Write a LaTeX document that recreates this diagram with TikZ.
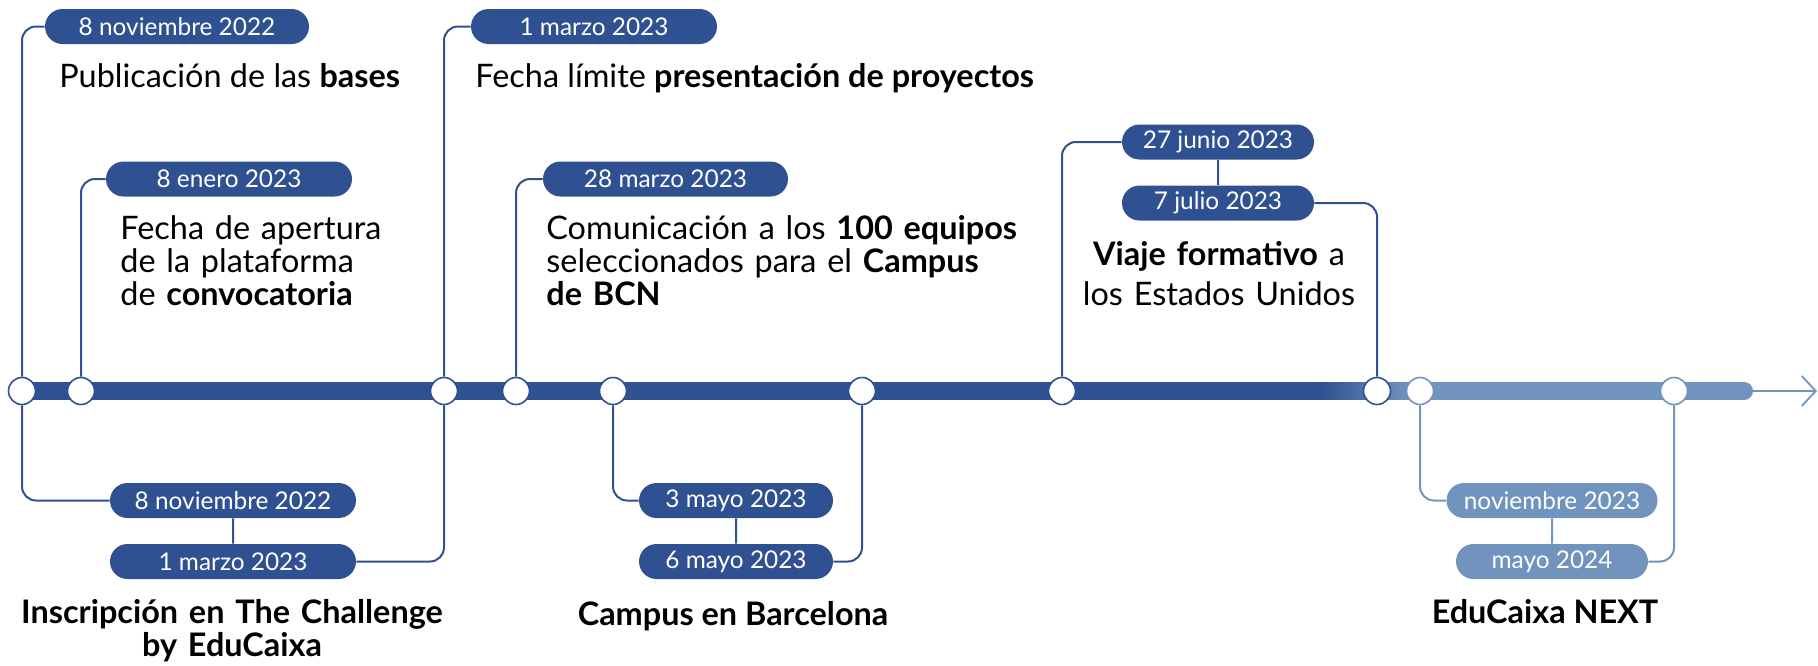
\documentclass[tikz,border=0pt]{standalone}
\usepackage{fontspec}
\setmainfont{Lato}
\usetikzlibrary{shapes.misc,arrows.meta}
\definecolor{navy}{HTML}{2F5191}
\definecolor{sky}{HTML}{7194BE}

\begin{document}
\begin{tikzpicture}
[x=0.5pt,y=-0.5pt,
dot/.style={circle,draw=navy,line width=0.8pt,fill=white,inner sep=0pt,minimum size=13.5pt},
date/.style={rounded rectangle,fill=navy,text=white,inner sep=0pt,minimum height=17.5pt,font=\fontsize{12.2}{13}\selectfont},
link/.style={draw=navy,line width=1pt,rounded corners=7pt},
txt/.style={inner sep=0pt,font=\fontsize{16.2}{16.5}\selectfont}]
\useasboundingbox (0,0) rectangle (1818,665);
\fill[navy] (22,382) rectangle (1320,400);
\foreach \i in {0,...,44}
  \fill[navy!\fpeval{100-\i*100/44}!sky] (1320+2*\i,382) rectangle (1322.5+2*\i,400);
\fill[sky] (1410,382) rectangle (1744,400);
\fill[sky] (1744,391) circle[radius=4.5pt];
\coordinate (barend) at (1753,391);
\coordinate (tip) at (1817,391);
\draw[sky,line width=0.9pt,-{Straight Barb[length=7pt,width=15pt,line width=0.9pt]}] (barend) -- (tip);
\node[dot] at (22,391) (c1) {};
\node[dot] at (81,391) (c2) {};
\node[dot] at (444,391) (c3) {};
\node[dot] at (516,391) (c4) {};
\node[dot] at (613,391) (c5) {};
\node[dot] at (862,391) (c6) {};
\node[dot] at (1062,391) (c7) {};
\node[dot] at (1377,391) (c8) {};
\node[dot,draw=sky] at (1420,391) (c9) {};
\node[dot,draw=sky] at (1674,391) (c10) {};
\node[date,minimum width=132pt] at (177,26.5) (d1) {8 noviembre 2022};
\node[date,minimum width=123pt] at (229,179) (d2) {8 enero 2023};
\node[date,minimum width=123pt] at (594,26.5) (d3) {1 marzo 2023};
\node[date,minimum width=122.5pt] at (665.5,179) (d4) {28 marzo 2023};
\node[date,minimum width=96pt] at (1218,142) (d5) {27 junio 2023};
\node[date,minimum width=96pt] at (1218,203) (d6) {7 julio 2023};
\node[date,minimum width=123pt] at (233,500.5) (d7) {8 noviembre 2022};
\node[date,minimum width=123pt] at (233,561.5) (d8) {1 marzo 2023};
\node[date,minimum width=97pt] at (736,500.5) (d9) {3 mayo 2023};
\node[date,minimum width=97pt] at (736,561.5) (d10) {6 mayo 2023};
\node[date,fill=sky,minimum width=105.5pt] at (1552,500.5) (d11) {noviembre 2023};
\node[date,fill=sky,minimum width=96pt] at (1552,561.5) (d12) {mayo 2024};
\node[txt,anchor=base west] at (59,87) (t1) {Publicación de las \textbf{bases}};
\node[txt,anchor=base west,text width=170pt,align=left] at (120,239) (t2) {Fecha de apertura\\de la plataforma\\de \textbf{convocatoria}};
\node[txt,anchor=base west] at (475,87) (t3) {Fecha límite \textbf{presentación de proyectos}};
\node[txt,anchor=base west,text width=280pt,align=left] at (546,239) (t4) {Comunicación a los \textbf{100 equipos}\\seleccionados para el \textbf{Campus}\\\textbf{de BCN}};
\node[txt,anchor=base,text width=190pt,align=center,font=\fontsize{16.2}{20}\selectfont] at (1219,265) (t5) {\textbf{Viaje formativo} a\\los Estados Unidos};
\node[txt,anchor=base,text width=280pt,align=center,font=\fontsize{16.2}{16.5}\selectfont\bfseries] at (232,623) (t6) {Inscripción en The Challenge\\by EduCaixa};
\node[txt,anchor=base,font=\fontsize{16.2}{16.5}\selectfont\bfseries] at (733,625) (t7) {Campus en Barcelona};
\node[txt,anchor=base,font=\fontsize{16.2}{16.5}\selectfont\bfseries] at (1545,623) (t8) {EduCaixa NEXT};
\draw[link] (c1) |- (d1);
\draw[link] (c2) |- (d2);
\draw[link] (c3) |- (d3);
\draw[link] (c4) |- (d4);
\draw[link] (c7) |- (d5);
\draw[link] (d5) -- (d6);
\draw[link] (d6) -| (c8);
\draw[link] (c1) |- (d7);
\draw[link] (d7) -- (d8);
\draw[link] (d8) -| (c3);
\draw[link] (c5) |- (d9);
\draw[link] (d9) -- (d10);
\draw[link] (d10) -| (c6);
\draw[link,draw=sky] (c9) |- (d11);
\draw[link,draw=sky] (d11) -- (d12);
\draw[link,draw=sky] (d12) -| (c10);
\end{tikzpicture}
\end{document}
